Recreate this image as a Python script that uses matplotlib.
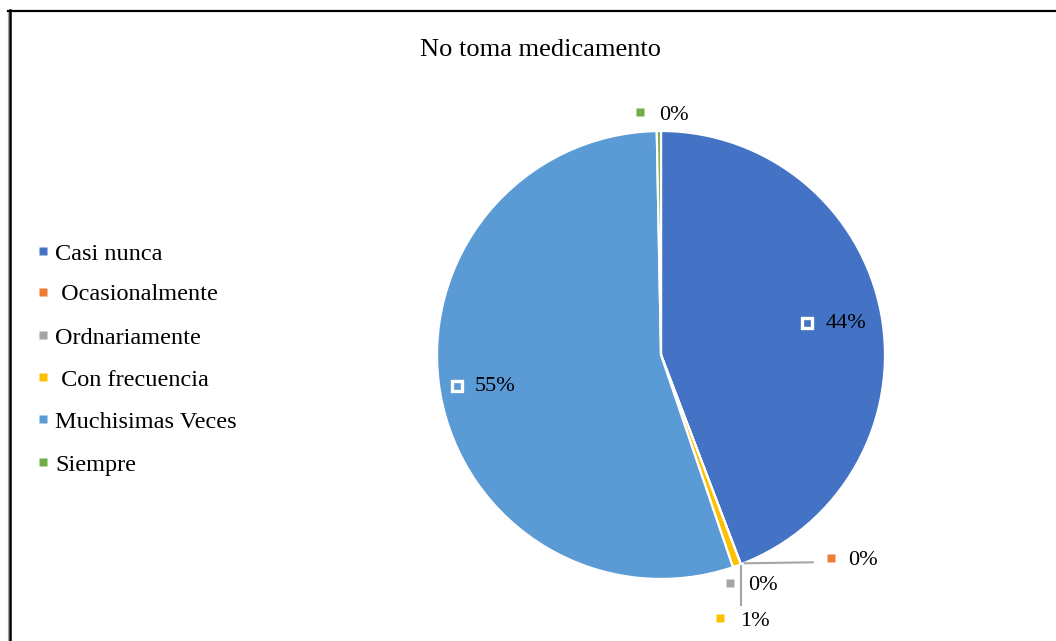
import matplotlib.pyplot as plt
import numpy as np
from matplotlib.lines import Line2D

# Survey answers for "No toma medicamento"
categories = ['Casi nunca', ' Ocasionalmente', 'Ordnariamente', ' Con frecuencia',
              'Muchisimas Veces', 'Siempre']
values = [44.2, 0.0, 0.0, 0.6, 54.9, 0.3]
colors = ['#4472C4', '#ED7D31', '#A5A5A5', '#FFC000', '#5B9BD5', '#70AD47']
title = 'No toma medicamento'

W, H = 1056, 641
plt.rcParams['font.family'] = ['Liberation Serif', 'DejaVu Serif']


def Y(y):
    # pixel row (top-down) -> axes coordinate (bottom-up)
    return H - y


fig = plt.figure(figsize=(W / 100, H / 100), dpi=100)
ax = fig.add_axes([0, 0, 1, 1])

cx, cy, R = 661, Y(355), 224
wedges, _ = ax.pie(values, colors=colors, startangle=90, counterclock=False,
                   radius=R, center=(cx, cy), frame=True,
                   wedgeprops=dict(edgecolor='white', linewidth=1.6))
ax.set_xlim(0, W)
ax.set_ylim(0, H)
ax.set_aspect('equal')
ax.axis('off')

# chart border (only top and left edges are visible)
ax.add_line(Line2D([8, W], [Y(10.5), Y(10.5)], color='black', lw=1.6))
ax.add_line(Line2D([9.5, 9.5], [Y(10), 0], color='black', lw=1.8))
ax.add_line(Line2D([7.5, 7.5], [Y(12), 0], color='#A0A0A0', lw=0.8))

ax.text(540, Y(50), title, ha='center', va='center', fontsize=19)

# legend on the left
legend_rows = [252, 293, 336, 378, 420, 463]
for name, col, ry in zip(categories, colors, legend_rows):
    ax.plot(43, Y(ry - 1), 's', color=col, ms=5.5, mec='none')
    ax.text(55, Y(ry + 2), name, ha='left', va='center', fontsize=17.5)

# wedge angles measured clockwise from 12 o'clock
bounds = np.concatenate([[0], np.cumsum(values)]) / sum(values) * 360
mids = (bounds[:-1] + bounds[1:]) / 2


def edge_point(angle, r):
    a = np.deg2rad(angle)
    return cx + r * np.sin(a), cy + r * np.cos(a)


labels = [f'{round(v):.0f}%' for v in values]

# labels inside the two large wedges
for i in (0, 4):
    lx, ly = edge_point(mids[i], 0.795 * R)
    ax.plot(lx - 29, ly, 's', ms=7, mfc='none', mec='white', mew=2.4)
    ax.text(lx - 11, ly - 1, labels[i], ha='left', va='center', fontsize=16)

# small wedges: labels pushed outside with leader lines
px, py = edge_point(bounds[1], R)
ax.add_line(Line2D([px + 4, px + 72], [py + 1, py + 2], color='#A6A6A6', lw=1.5))
ax.plot(px + 90, py + 6, 's', color=colors[1], ms=5.5, mec='none')
ax.text(px + 107, py + 4, labels[1], ha='left', va='center', fontsize=16)

ax.add_line(Line2D([px, px], [py - 2, Y(605)], color='#A6A6A6', lw=1.5))
ax.plot(px - 11, Y(583), 's', color=colors[2], ms=5.5, mec='none')
ax.text(px + 7, Y(585), labels[2], ha='left', va='center', fontsize=16)

ax.plot(px - 21, Y(618), 's', color=colors[3], ms=5.5, mec='none')
ax.text(px - 1, Y(621), labels[3], ha='left', va='center', fontsize=16)

tx, ty = edge_point(mids[5], R)
ax.plot(tx - 19, Y(112), 's', color=colors[5], ms=5.5, mec='none')
ax.text(tx, Y(115), labels[5], ha='left', va='center', fontsize=16)

fig.savefig('out.png', dpi=100, facecolor='white')
